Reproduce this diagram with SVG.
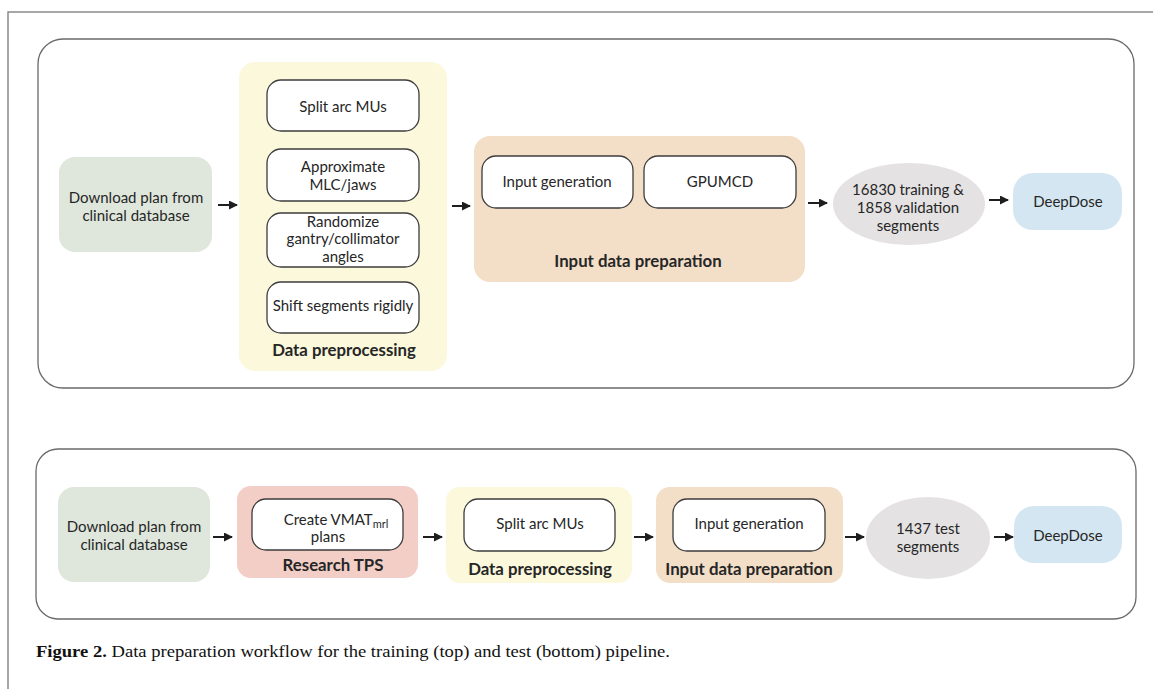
<svg xmlns="http://www.w3.org/2000/svg" width="1153" height="689" viewBox="0 0 1153 689">
<style>
.frame{fill:none;stroke:#8a8a8a;stroke-width:1.5}
.panel{fill:#ffffff;stroke:#6a6a6a;stroke-width:1.3}
.inner{fill:#ffffff;stroke:#3c3c3c;stroke-width:1.3}
.green{fill:#dfe6dc}
.yellow{fill:#fbf8dc}
.peach{fill:#f3dfc8}
.pink{fill:#f2cec6}
.gray{fill:#e4e2e2}
.blue{fill:#d5e6f3}
text{font-family:Lato,"Open Sans","Liberation Sans",sans-serif;fill:#262626;text-anchor:middle}
.t{font-size:15px}
.b{font-size:16.8px;font-weight:bold}
.cap{font-family:"Liberation Serif","DejaVu Serif",serif;font-size:17px;text-anchor:start;fill:#111}
.arrow{stroke:#1e1e1e;stroke-width:2;fill:none;marker-end:url(#ah)}
</style>
<defs>
<marker id="ah" markerUnits="userSpaceOnUse" markerWidth="9" markerHeight="9" refX="8" refY="4.5" orient="auto">
<path d="M0,0 L9,4.5 L0,9 z" fill="#1e1e1e"/>
</marker>
</defs>
<rect width="1153" height="689" fill="#ffffff"/>
<path class="frame" d="M8,689 L8,12 L1153,12"/>

<g id="panel-top"><rect class="panel" x="38" y="39" width="1096" height="349" rx="25"/></g>
<g id="panel-bottom"><rect class="panel" x="36" y="449" width="1100" height="170" rx="22"/></g>

<!-- top pipeline -->
<g id="t-download">
<rect class="green" x="59" y="157" width="153" height="95" rx="16"/>
<text class="t" x="136" y="203">Download plan from</text>
<text class="t" x="136" y="221">clinical database</text>
</g>
<g id="t-preproc">
<rect class="yellow" x="239" y="62" width="208" height="309" rx="16"/>
<text class="b" x="344" y="356">Data preprocessing</text>
</g>
<g id="t-split">
<rect class="inner" x="267" y="80" width="152" height="51" rx="14"/>
<text class="t" x="343" y="112">Split arc MUs</text>
</g>
<g id="t-approx">
<rect class="inner" x="267" y="149" width="152" height="52" rx="14"/>
<text class="t" x="343" y="172">Approximate</text>
<text class="t" x="343" y="190">MLC/jaws</text>
</g>
<g id="t-random">
<rect class="inner" x="267" y="213" width="152" height="54" rx="14"/>
<text class="t" x="343" y="227">Randomize</text>
<text class="t" x="343" y="244">gantry/collimator</text>
<text class="t" x="343" y="262">angles</text>
</g>
<g id="t-shift">
<rect class="inner" x="267" y="282" width="152" height="51" rx="14"/>
<text class="t" x="343" y="311">Shift segments rigidly</text>
</g>
<g id="t-inputprep">
<rect class="peach" x="474" y="136" width="331" height="146" rx="16"/>
<text class="b" x="638" y="267">Input data preparation</text>
</g>
<g id="t-inputgen">
<rect class="inner" x="482" y="156" width="151" height="52" rx="14"/>
<text class="t" x="557" y="187">Input generation</text>
</g>
<g id="t-gpumcd">
<rect class="inner" x="644" y="156" width="152" height="52" rx="14"/>
<text class="t" x="720" y="187">GPUMCD</text>
</g>
<g id="t-segments">
<ellipse class="gray" cx="909" cy="204" rx="76" ry="41"/>
<text class="t" x="908" y="195">16830 training &amp;</text>
<text class="t" x="908" y="213">1858 validation</text>
<text class="t" x="908" y="231">segments</text>
</g>
<g id="t-deepdose">
<rect class="blue" x="1013" y="173" width="109" height="57" rx="20"/>
<text class="t" x="1068" y="207">DeepDose</text>
</g>

<!-- bottom pipeline -->
<g id="b-download">
<rect class="green" x="58" y="487" width="152" height="95" rx="16"/>
<text class="t" x="134" y="532">Download plan from</text>
<text class="t" x="134" y="550">clinical database</text>
</g>
<g id="b-tps">
<rect class="pink" x="237" y="486" width="181" height="92" rx="14"/>
<text class="b" x="333" y="571">Research TPS</text>
</g>
<g id="b-create">
<rect class="inner" x="252" y="499" width="151" height="51" rx="14"/>
<text class="t" x="336" y="525">Create VMAT<tspan font-size="11" dy="3">mrl</tspan></text>
<text class="t" x="328" y="542">plans</text>
</g>
<g id="b-preproc">
<rect class="yellow" x="446" y="487" width="186" height="96" rx="14"/>
<text class="b" x="540" y="575">Data preprocessing</text>
</g>
<g id="b-split">
<rect class="inner" x="464" y="499" width="151" height="52" rx="14"/>
<text class="t" x="540" y="529">Split arc MUs</text>
</g>
<g id="b-inputprep">
<rect class="peach" x="656" y="487" width="187" height="96" rx="14"/>
<text class="b" x="749" y="575">Input data preparation</text>
</g>
<g id="b-inputgen">
<rect class="inner" x="673" y="499" width="152" height="52" rx="14"/>
<text class="t" x="749" y="529">Input generation</text>
</g>
<g id="b-segments">
<ellipse class="gray" cx="928" cy="538" rx="62" ry="41"/>
<text class="t" x="928" y="534">1437 test</text>
<text class="t" x="928" y="552">segments</text>
</g>
<g id="b-deepdose">
<rect class="blue" x="1014" y="506" width="108" height="57" rx="20"/>
<text class="t" x="1068" y="541">DeepDose</text>
</g>

<g id="connectors">
<line class="arrow" x1="218" y1="205" x2="237" y2="205"/>
<line class="arrow" x1="452" y1="206" x2="470" y2="206"/>
<line class="arrow" x1="808" y1="203" x2="827" y2="203"/>
<line class="arrow" x1="989" y1="200" x2="1008" y2="200"/>
<line class="arrow" x1="213" y1="537" x2="232" y2="537"/>
<line class="arrow" x1="423" y1="537" x2="442" y2="537"/>
<line class="arrow" x1="634" y1="537" x2="653" y2="537"/>
<line class="arrow" x1="845" y1="537" x2="864" y2="537"/>
<line class="arrow" x1="994" y1="537" x2="1013" y2="537"/>
</g>

<text class="cap" x="36" y="657" textLength="634" lengthAdjust="spacingAndGlyphs"><tspan font-weight="bold">Figure 2.</tspan> Data preparation workflow for the training (top) and test (bottom) pipeline.</text>
</svg>
